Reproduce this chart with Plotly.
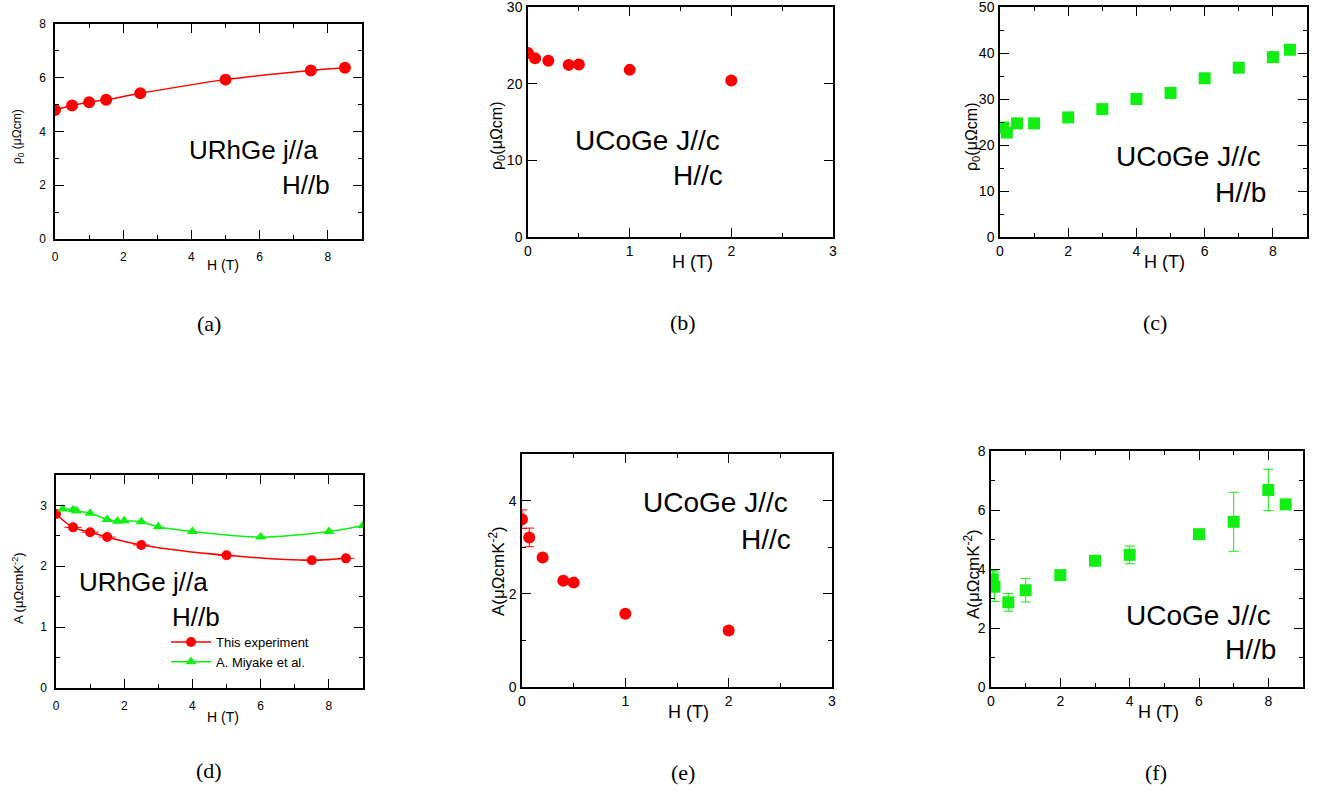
import plotly.graph_objects as go

OFF = 0  # page margin is removed by the post script below
W, H = 1324 - OFF, 792 - OFF

# ---------------- data ----------------
a_H = [0, 0.5, 1, 1.5, 2.5, 5, 7.5, 8.5]
a_rho = [4.80, 4.97, 5.09, 5.18, 5.42, 5.93, 6.27, 6.37]

b_H = [0, 0.07, 0.2, 0.4, 0.5, 1, 2]
b_rho = [24.0, 23.3, 23.0, 22.45, 22.5, 21.8, 20.4]

c_H = [0.1, 0.2, 0.5, 1, 2, 3, 4, 5, 6, 7, 8, 8.5]
c_rho = [23.8, 22.7, 24.7, 24.7, 26.0, 27.8, 30.0, 31.3, 34.5, 36.8, 39.1, 40.7]

d_H = [0, 0.5, 1, 1.5, 2.5, 5, 7.5, 8.5]
d_A = [2.86, 2.64, 2.56, 2.48, 2.35, 2.18, 2.10, 2.13]
d_Herr = [0.05, 0.25, 0.25, 0.25, 0.25, 0.25, 0.3, 0.25]
d_miy_H = [0.2, 0.5, 0.6, 1, 1.5, 1.8, 2, 2.5, 3, 4, 6, 8, 9]
d_miy_A = [2.94, 2.93, 2.91, 2.87, 2.77, 2.74, 2.75, 2.73, 2.65, 2.57, 2.48, 2.57, 2.67]

e_H = [0, 0.07, 0.2, 0.4, 0.5, 1, 2]
e_A = [3.6, 3.21, 2.78, 2.28, 2.24, 1.57, 1.21]
e_err = [0.2, 0.2, 0.05, 0.05, 0.05, 0.05, 0.07]

f_H = [0.05, 0.1, 0.5, 1, 2, 3, 4, 6, 7, 8, 8.5]
f_A = [3.65, 3.4, 2.87, 3.28, 3.79, 4.28, 4.48, 5.18, 5.6, 6.68, 6.19]
f_err = [0.3, 0.5, 0.3, 0.4, 0.1, 0.1, 0.3, 0.1, 1.0, 0.7, 0.1]

RED = "#ff0000"
GREEN = "#11ee11"
SANS = "Liberation Sans, Arial, sans-serif"
SERIF = "Liberation Serif, DejaVu Serif, serif"


def px(x):
    return (x - OFF) / W


def py(y):
    return 1 - (y - OFF) / H


def clamp(v):
    return max(0.0, min(1.0, v))


# panel boxes in screen pixels: (left, right, top, bottom)
boxes = {
    1: (55, 362, 24, 239),
    2: (528, 833, 7, 237),
    3: (1000, 1307, 7, 237),
    4: (56, 363, 475, 688),
    5: (522, 832, 454, 687),
    6: (991, 1303, 451, 687),
}
# axis settings: xrange, xdtick, xminor, yrange, ydtick, yminor, fontsize, xstand, ystand
axset = {
    1: ([0, 9], 2, 1, [0, 8], 2, 1, 12, 6, 5),
    2: ([0, 3], 1, 0.5, [0, 30], 10, 10, 14, 0, 1),
    3: ([0, 9], 2, 1, [0, 50], 10, 5, 14, 0, 1),
    4: ([0, 9], 2, 1, [0, 3.5], 1, 0.5, 12, 6, 5),
    5: ([0, 3], 1, 0.5, [0, 5], 2, 1, 14, 0, 1),
    6: ([0, 9], 2, 1, [0, 8], 2, 1, 14, 0, 1),
}

fig = go.Figure()


def ax(i):
    return ("x" if i == 1 else f"x{i}"), ("y" if i == 1 else f"y{i}")


# (a)
xa, ya = ax(1)
fig.add_trace(go.Scatter(x=a_H, y=a_rho, mode="lines+markers", line=dict(color=RED, width=1.5, shape="spline"),
                         marker=dict(color=RED, size=12, symbol="circle"), xaxis=xa, yaxis=ya, showlegend=False))
# (b)
xa, ya = ax(2)
fig.add_trace(go.Scatter(x=b_H, y=b_rho, mode="markers", marker=dict(color=RED, size=12),
                         xaxis=xa, yaxis=ya, showlegend=False))
# (c)
xa, ya = ax(3)
fig.add_trace(go.Scatter(x=c_H, y=c_rho, mode="markers", marker=dict(color=GREEN, size=12, symbol="square"),
                         xaxis=xa, yaxis=ya, showlegend=False))
# (d)
xa, ya = ax(4)
fig.add_trace(go.Scatter(x=d_H, y=d_A, mode="lines+markers", name="This experiment",
                         line=dict(color=RED, width=1.5, shape="spline"),
                         marker=dict(color=RED, size=10),
                         error_x=dict(type="data", array=d_Herr, color=RED, thickness=1, width=0),
                         xaxis=xa, yaxis=ya))
fig.add_trace(go.Scatter(x=d_miy_H, y=d_miy_A, mode="lines+markers", name="A. Miyake et al.",
                         line=dict(color=GREEN, width=1.5, shape="spline"),
                         marker=dict(color=GREEN, size=10, symbol="triangle-up"),
                         xaxis=xa, yaxis=ya))
# (e)
xa, ya = ax(5)
fig.add_trace(go.Scatter(x=e_H, y=e_A, mode="markers", marker=dict(color=RED, size=12),
                         error_y=dict(type="data", array=e_err, color=RED, thickness=1, width=5),
                         xaxis=xa, yaxis=ya, showlegend=False))
# (f)
xa, ya = ax(6)
fig.add_trace(go.Scatter(x=f_H, y=f_A, mode="markers", marker=dict(color=GREEN, size=12, symbol="square"),
                         error_y=dict(type="data", array=f_err, color=GREEN, thickness=1, width=5),
                         xaxis=xa, yaxis=ya, showlegend=False))

layout = dict(width=W, height=H, margin=dict(l=0, r=0, t=0, b=0, autoexpand=False), paper_bgcolor="white",
              plot_bgcolor="white", font=dict(family=SANS, color="black"))

for i, (l, r, t, b) in boxes.items():
    xr, xd, xm, yr, yd, ym, fs, xs, ys = axset[i]
    xk = "xaxis" if i == 1 else f"xaxis{i}"
    yk = "yaxis" if i == 1 else f"yaxis{i}"
    xname, yname = ax(i)
    common = dict(showline=True, linecolor="black", linewidth=1.5, mirror="allticks", ticks="inside",
                  ticklen=9, tickwidth=1.2, tickcolor="black", showgrid=False, zeroline=False,
                  automargin=False, ticklabeloverflow="allow",
                  tickfont=dict(family=SANS, size=fs, color="black"))
    layout[xk] = dict(common, domain=[clamp(px(l)), clamp(px(r))], range=xr, dtick=xd, tick0=0, anchor=yname,
                      minor=dict(dtick=xm, ticks="inside", ticklen=4, tickwidth=1.2, tickcolor="black"),
                      ticklabelstandoff=xs)
    layout[yk] = dict(common, domain=[clamp(py(b)), clamp(py(t))], range=yr, dtick=yd, tick0=0, anchor=xname,
                      minor=dict(dtick=ym, ticks="inside", ticklen=4, tickwidth=1.2, tickcolor="black"),
                      ticklabelstandoff=ys)

layout["legend"] = dict(x=px(166), y=py(627), xanchor="left", yanchor="top", bgcolor="rgba(0,0,0,0)",
                        font=dict(family=SANS, size=13), tracegroupgap=0, itemwidth=40)

ann = []


def add_text(text, x, y, size, xanchor="center", family=SANS, angle=0):
    ann.append(dict(text=text, x=px(x), y=py(y), xref="paper", yref="paper", showarrow=False,
                    xanchor=xanchor, yanchor="middle", textangle=angle,
                    font=dict(family=family, size=size, color="black")))


# panel labels
add_text("URhGe j//a", 320, 150, 26, "right")
add_text("H//b", 332, 185, 26, "right")
add_text("UCoGe J//c", 722, 140, 28, "right")
add_text("H//c", 725, 175, 28, "right")
add_text("UCoGe J//c", 1263, 157, 28, "right")
add_text("H//b", 1268, 192, 28, "right")
add_text("URhGe j//a", 210, 582, 26, "right")
add_text("H//b", 222, 617, 26, "right")
add_text("UCoGe J//c", 790, 502, 28, "right")
add_text("H//c", 793, 539, 28, "right")
add_text("UCoGe J//c", 1273, 615, 28, "right")
add_text("H//b", 1278, 649, 28, "right")

# x titles
add_text("H (T)", 223, 265, 14)
add_text("H (T)", 692, 262, 18)
add_text("H (T)", 1164, 262, 18)
add_text("H (T)", 223, 717, 14)
add_text("H (T)", 688, 712, 18)
add_text("H (T)", 1158, 712, 18)

# y titles
add_text("ρ<sub>0</sub> (μΩcm)", 18, 137, 12, angle=-90)
add_text("ρ<sub>0</sub>(μΩcm)", 498, 135, 16, angle=-90)
add_text("ρ<sub>0</sub>(μΩcm)", 972, 137, 16, angle=-90)
add_text("A (μΩcmK<sup>-2</sup>)", 18, 588, 13, angle=-90)
add_text("A(μΩcmK<sup>-2</sup>)", 497, 571, 17, angle=-90)
add_text("A(μΩcmK<sup>-2</sup>)", 972, 574, 17, angle=-90)

# captions
for lab, x, y in [("(a)", 209, 323), ("(b)", 683, 322), ("(c)", 1155, 322),
                  ("(d)", 209, 770), ("(e)", 683, 772), ("(f)", 1156, 772)]:
    add_text(lab, x, y, 22, family=SERIF)

layout["annotations"] = ann
fig.update_layout(**layout)
fig.write_html("out.html", config=dict(displayModeBar=False),
               post_script="document.body.style.margin='0px';document.body.style.overflow='hidden';")
